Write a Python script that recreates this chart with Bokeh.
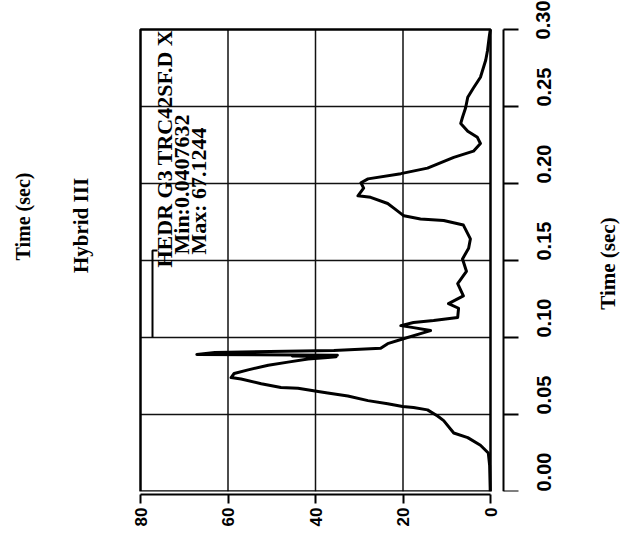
import math

from bokeh.embed import file_html
from bokeh.models import (FixedTicker, Label, LinearAxis, PolyAnnotation,
                          PrintfTickFormatter, Range1d)
from bokeh.plotting import figure
from bokeh.resources import INLINE

# Head resultant acceleration trace (g) against time (s)
time_s = [
    0.000, 0.003, 0.017, 0.025, 0.030, 0.035, 0.038, 0.046, 0.049, 0.053,
    0.0545, 0.0552, 0.057, 0.059, 0.062, 0.064, 0.065, 0.067, 0.0675, 0.070,
    0.073, 0.074, 0.0766, 0.079, 0.082, 0.084, 0.086, 0.087, 0.0875, 0.088,
    0.0885, 0.089, 0.0903, 0.0915, 0.093, 0.096, 0.099, 0.1025, 0.1045, 0.1064,
    0.1077, 0.1097, 0.111, 0.113, 0.119, 0.122, 0.127, 0.135, 0.143, 0.151,
    0.158, 0.164, 0.173, 0.176, 0.177, 0.179, 0.184, 0.187, 0.191, 0.192,
    0.197, 0.2005, 0.203, 0.2064, 0.210, 0.217, 0.221, 0.226, 0.230, 0.234,
    0.239, 0.243, 0.249, 0.256, 0.262, 0.269, 0.280, 0.286, 0.295, 0.300,
]
accel_g = [
    0.06, 0.08, 0.2, 0.5, 2.3, 5.2, 8.4, 10.7, 12.1, 14.4,
    17.6, 20.1, 23.5, 28.0, 32.6, 37.2, 39.4, 44.0, 47.9, 52.4,
    57.0, 59.3, 58.6, 55.4, 50.8, 46.3, 41.7, 37.2, 35.3, 45.3,
    35.0, 67.1244, 63.0, 35.8, 25.1, 23.5, 20.1, 16.0, 13.7, 17.6,
    20.5, 17.6, 13.0, 7.5, 7.3, 9.6, 6.2, 7.5, 5.5, 6.4,
    5.0, 4.6, 6.2, 10.7, 16.0, 19.8, 22.1, 23.5, 27.4, 30.3,
    29.0, 29.6, 28.0, 20.5, 14.4, 8.4, 3.9, 2.3, 3.0, 5.2,
    6.8, 6.4, 5.7, 5.2, 3.9, 2.3, 1.1, 0.7, 0.3, 0.0407632,
]

time_ticks = [0.00, 0.05, 0.10, 0.15, 0.20, 0.25, 0.30]
accel_ticks = [0, 20, 40, 60, 80]
time_grid = [0.05, 0.10, 0.15, 0.20, 0.25]
accel_grid = [20, 40, 60]

title_text = "Hybrid III"
time_label = "Time (sec)"
legend_name = "HEDR G3 TRC42SF.D X"
legend_min = "Min:0.0407632"
legend_max = "Max: 67.1244"

SERIF = "Liberation Serif"
SANS = "Liberation Sans"
UP = math.pi / 2

# Plot box: acceleration 80..0 across 350 px starting 140 px from the left,
# time 0..0.30 upward over 462 px ending 29 px below the top.  The frame
# spans the page width and reaches the top edge so the headings and the
# offset time axis can sit inside it.
W, H = 620, 540
BOX_LEFT, BOX_W = 140, 350
BOX_TOP, BOX_H = 29, 462
A_MAX, A_MIN = 80, 0
T0, T1 = 0.0, 0.30
g_per_px = (A_MAX - A_MIN) / BOX_W
s_per_px = (T1 - T0) / BOX_H
x_lo = A_MAX + BOX_LEFT * g_per_px
x_hi = A_MIN - (W - BOX_LEFT - BOX_W) * g_per_px
y_hi = T1 + BOX_TOP * s_per_px

p = figure(
    width=W, height=H, output_backend="svg", toolbar_location=None,
    x_range=Range1d(x_lo, x_hi), y_range=Range1d(T0, y_hi),
    x_axis_type=None, y_axis_type=None,
    min_border_left=0, min_border_right=0,
    min_border_top=0, min_border_bottom=H - BOX_TOP - BOX_H,
    background_fill_color="white", border_fill_color="white",
    outline_line_color=None,
)

# grid lines, kept inside the box
grid_kw = dict(line_color="#111111", line_width=1.5)
p.segment(x0=accel_grid, x1=accel_grid, y0=[T0] * len(accel_grid),
          y1=[T1] * len(accel_grid), **grid_kw)
p.segment(x0=[A_MAX] * len(time_grid), x1=[A_MIN] * len(time_grid),
          y0=time_grid, y1=time_grid, **grid_kw)

# plot box border
p.add_layout(PolyAnnotation(xs=[A_MAX, A_MIN, A_MIN, A_MAX], ys=[T0, T0, T1, T1],
                            fill_color=None, line_color="black",
                            line_alpha=1.0, line_width=2.5))

# small gap between the box and the bottom axis
p.add_layout(LinearAxis(ticker=FixedTicker(ticks=[50]), axis_line_color=None,
                        major_tick_out=3, major_tick_in=0,
                        major_tick_line_color="white", major_tick_line_width=0.5,
                        minor_tick_line_color=None, major_label_standoff=0,
                        major_label_text_color=None,
                        major_label_text_font_size="1px"), "below")

# acceleration axis along the bottom
ax_b = LinearAxis(ticker=FixedTicker(ticks=accel_ticks), bounds=(A_MIN, A_MAX))
ax_b.axis_line_width = 2
ax_b.major_tick_line_width = 2
ax_b.major_tick_out = 9
ax_b.major_tick_in = 0
ax_b.minor_tick_line_color = None
ax_b.major_label_orientation = UP
ax_b.major_label_standoff = 4
ax_b.major_label_text_font = SANS
ax_b.major_label_text_font_style = "bold"
ax_b.major_label_text_font_size = "17px"
ax_b.major_label_text_color = "black"
p.add_layout(ax_b, "below")

# time axis, set off 13 px to the right of the box
ax_r = LinearAxis(ticker=FixedTicker(ticks=time_ticks),
                  formatter=PrintfTickFormatter(format="%.2f"),
                  fixed_location=A_MIN - 13 * g_per_px, bounds=(T0, T1))
ax_r.axis_line_width = 2
ax_r.major_tick_line_width = 2
ax_r.major_tick_out = 15
ax_r.major_tick_in = 0
ax_r.minor_tick_line_color = None
ax_r.major_label_orientation = UP
ax_r.major_label_standoff = 25
ax_r.major_label_text_font = SANS
ax_r.major_label_text_font_style = "bold"
ax_r.major_label_text_font_size = "20px"
ax_r.major_label_text_color = "black"
p.add_layout(ax_r, "right")

# the trace
p.line(accel_g, time_s, line_color="black", line_width=3, line_join="round")


def up_text(text, x, y, size, align="center"):
    # x, y in pixels from the frame's lower-left corner; text reads upward
    p.add_layout(Label(
        text=text, x=x, y=y, x_units="screen", y_units="screen", angle=UP,
        text_align=align, text_baseline="middle", text_font=SERIF,
        text_font_style="bold", text_font_size=size, text_color="black"))


# headings
up_text(time_label, 22, 275, "20px")
up_text(title_text, 80, 266, "21px")
up_text(time_label, 607, 228, "21px")

# legend block
up_text(legend_name, 164, 224, "22px", align="left")
up_text(legend_min, 181, 237, "22px", align="left")
up_text(legend_max, 198, 237, "22px", align="left")
p.add_layout(PolyAnnotation(
    xs=[157, 152, 152, 152], ys=[241, 241, 154, 241],
    xs_units="screen", ys_units="screen",
    line_color="black", line_alpha=1.0, line_width=2, fill_color=None))

open("out.html", "w").write(file_html(p, INLINE))
